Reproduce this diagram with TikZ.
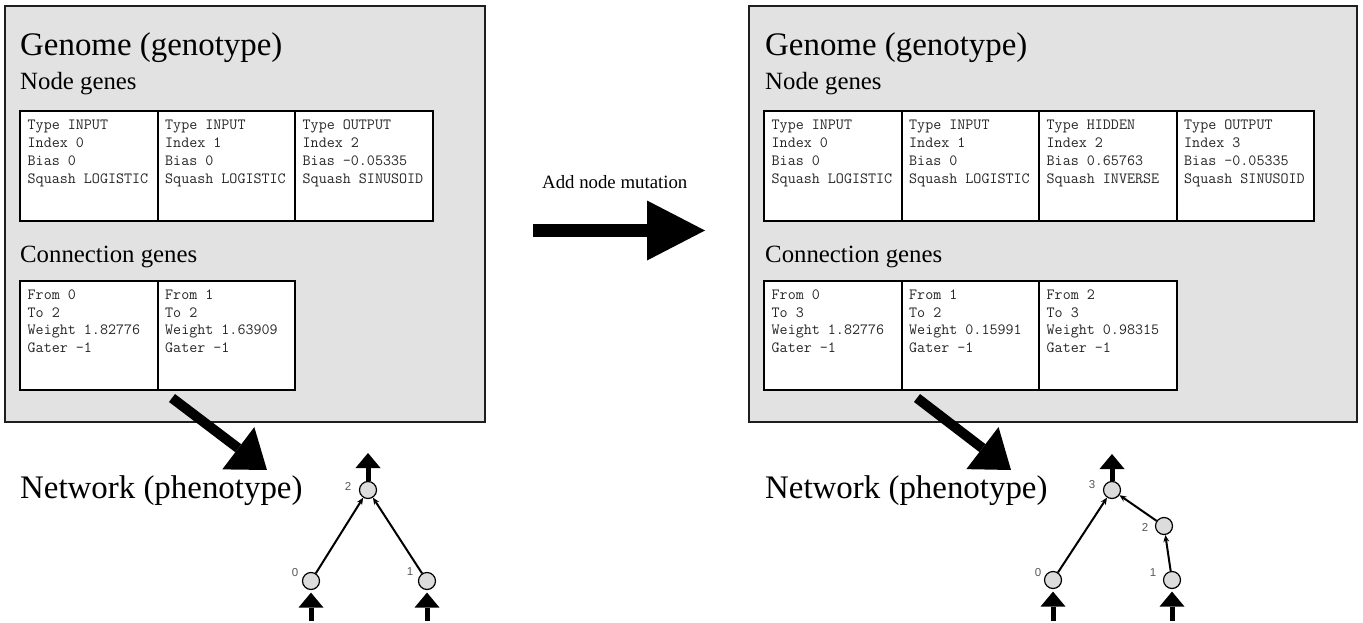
\documentclass[tikz,border=0pt]{standalone}
\usepackage{fontspec}
\setmainfont{Liberation Serif}
\newfontfamily\numfont{Liberation Sans}
\usetikzlibrary{arrows.meta,calc}

\definecolor{panelgrey}{HTML}{E2E2E2}
\definecolor{nodegrey}{HTML}{DCDCDC}
\definecolor{inkgrey}{HTML}{1E1E1E}

\tikzset{
  panel/.style={draw=inkgrey, line width=2pt, fill=panelgrey, anchor=north west,
    inner sep=0pt, minimum width=#1, minimum height=416pt},
  cell/.style={draw=black, line width=2pt, fill=white, anchor=north west,
    inner sep=0pt, outer sep=0pt, minimum width=137.5pt, minimum height=109.5pt},
  celltext/.style={anchor=base west, inner sep=0pt, text=black!85,
    font=\ttfamily\fontsize{15.6}{17}\selectfont},
  bigtitle/.style={anchor=base west, inner sep=0pt, font=\fontsize{32.9}{36}\selectfont},
  subtitle/.style={anchor=base west, inner sep=0pt, font=\fontsize{24.8}{28}\selectfont},
  caption/.style={anchor=base west, inner sep=0pt, font=\fontsize{18.8}{22}\selectfont},
  netnode/.style={circle, draw=black, line width=1.2pt, fill=nodegrey,
    minimum size=17pt, inner sep=0pt},
  numlabel/.style={inner sep=0pt, text=black!65, font=\numfont\fontsize{11.5}{12}\selectfont},
  link/.style={line width=2pt, -{Stealth[length=7pt,width=6pt,line width=0pt]}},
  ioarrow/.style={line width=5pt, -{Triangle[length=15pt,width=25pt,line width=0pt]}},
  decode/.style={line width=10pt, -{Triangle[length=36pt,width=53pt,line width=0pt]}},
  mutate/.style={line width=13pt, -{Triangle[length=58pt,width=60pt,line width=0pt]}},
}

% a gene cell: name, x, y, list of text lines
\newcommand{\genecell}[4]{%
  \node[cell] (#1) at (#2,#3) {};
  \foreach \ln [count=\k] in {#4} {%
    \node[celltext] (#1-\k) at ($(#1.north west)+(7.5,19+17.7*\k-17.7)$) {\ln};
  }%
}

\begin{document}
\begin{tikzpicture}[x=1pt,y=-1pt]
\useasboundingbox (0,0) rectangle (1363,623);
\fill[white] (0,0) rectangle (1363,623);

% ---------- genome before mutation ----------
\node[panel=480pt] (genomeA) at (4,5) {};
\node[bigtitle] (genomeAtitle) at (20,56) {Genome (genotype)};
\node[subtitle] (nodesAtitle) at (20,90) {Node genes};
\genecell{na0}{20}{111}{Type INPUT,Index 0,Bias 0,Squash LOGISTIC}
\genecell{na1}{157.5}{111}{Type INPUT,Index 1,Bias 0,Squash LOGISTIC}
\genecell{na2}{295}{111}{Type OUTPUT,Index 2,Bias -0.05335,Squash SINUSOID}
\node[subtitle] (connsAtitle) at (20,262) {Connection genes};
\genecell{ca0}{20}{280.5}{From 0,To 2,Weight 1.82776,Gater -1}
\genecell{ca1}{157.5}{280.5}{From 1,To 2,Weight 1.63909,Gater -1}

% ---------- genome after mutation ----------
\node[panel=608pt] (genomeB) at (748,5) {};
\node[bigtitle] (genomeBtitle) at (765,56) {Genome (genotype)};
\node[subtitle] (nodesBtitle) at (765,90) {Node genes};
\genecell{nb0}{764}{111}{Type INPUT,Index 0,Bias 0,Squash LOGISTIC}
\genecell{nb1}{901.5}{111}{Type INPUT,Index 1,Bias 0,Squash LOGISTIC}
\genecell{nb2}{1039}{111}{Type HIDDEN,Index 2,Bias 0.65763,Squash INVERSE}
\genecell{nb3}{1176.5}{111}{Type OUTPUT,Index 3,Bias -0.05335,Squash SINUSOID}
\node[subtitle] (connsBtitle) at (765,262) {Connection genes};
\genecell{cb0}{764}{280.5}{From 0,To 3,Weight 1.82776,Gater -1}
\genecell{cb1}{901.5}{280.5}{From 1,To 2,Weight 0.15991,Gater -1}
\genecell{cb2}{1039}{280.5}{From 2,To 3,Weight 0.98315,Gater -1}

% ---------- mutation arrow ----------
\node[caption] (mutlabel) at (542,188) {Add node mutation};
\coordinate (mutstart) at (533,230.5);
\coordinate (mutend) at (705,230.5);
\draw[mutate] (mutstart) -- (mutend);

% ---------- decoding arrows ----------
\coordinate (decAstart) at (172,398);
\coordinate (decAend) at (267,470);
\draw[decode] (decAstart) -- (decAend);
\coordinate (decBstart) at (917,398);
\coordinate (decBend) at (1011,470);
\draw[decode] (decBstart) -- (decBend);

\node[bigtitle] (netAtitle) at (20,498) {Network (phenotype)};
\node[bigtitle] (netBtitle) at (765,498) {Network (phenotype)};

% ---------- network before mutation ----------
\node[netnode] (a2) at (368,490) {};
\node[netnode] (a0) at (311,581) {};
\node[netnode] (a1) at (427,581) {};
\node[numlabel] (a2l) at (348,486) {2};
\node[numlabel] (a0l) at (295,573) {0};
\node[numlabel] (a1l) at (410,572) {1};
\coordinate (a2out) at (368,453);
\coordinate (a0in) at (311,621);
\coordinate (a1in) at (427,621);
\draw[ioarrow] (a2.north) -- (a2out);
\draw[ioarrow, shorten >=2.5pt] (a0in) -- (a0.south);
\draw[ioarrow, shorten >=2.5pt] (a1in) -- (a1.south);
\draw[link] (a0) -- (a2);
\draw[link] (a1) -- (a2);

% ---------- network after mutation ----------
\node[netnode] (b3) at (1112,490) {};
\node[netnode] (b2) at (1164,526) {};
\node[netnode] (b0) at (1053,580) {};
\node[netnode] (b1) at (1172,580) {};
\node[numlabel] (b3l) at (1092,485) {3};
\node[numlabel] (b2l) at (1145,527) {2};
\node[numlabel] (b0l) at (1038,573) {0};
\node[numlabel] (b1l) at (1153,573) {1};
\coordinate (b3out) at (1112,454);
\coordinate (b0in) at (1053,621);
\coordinate (b1in) at (1172,621);
\draw[ioarrow] (b3.north) -- (b3out);
\draw[ioarrow, shorten >=2.5pt] (b0in) -- (b0.south);
\draw[ioarrow, shorten >=2.5pt] (b1in) -- (b1.south);
\draw[link] (b0) -- (b3);
\draw[link] (b2) -- (b3);
\draw[link] (b1) -- (b2);
\end{tikzpicture}
\end{document}
